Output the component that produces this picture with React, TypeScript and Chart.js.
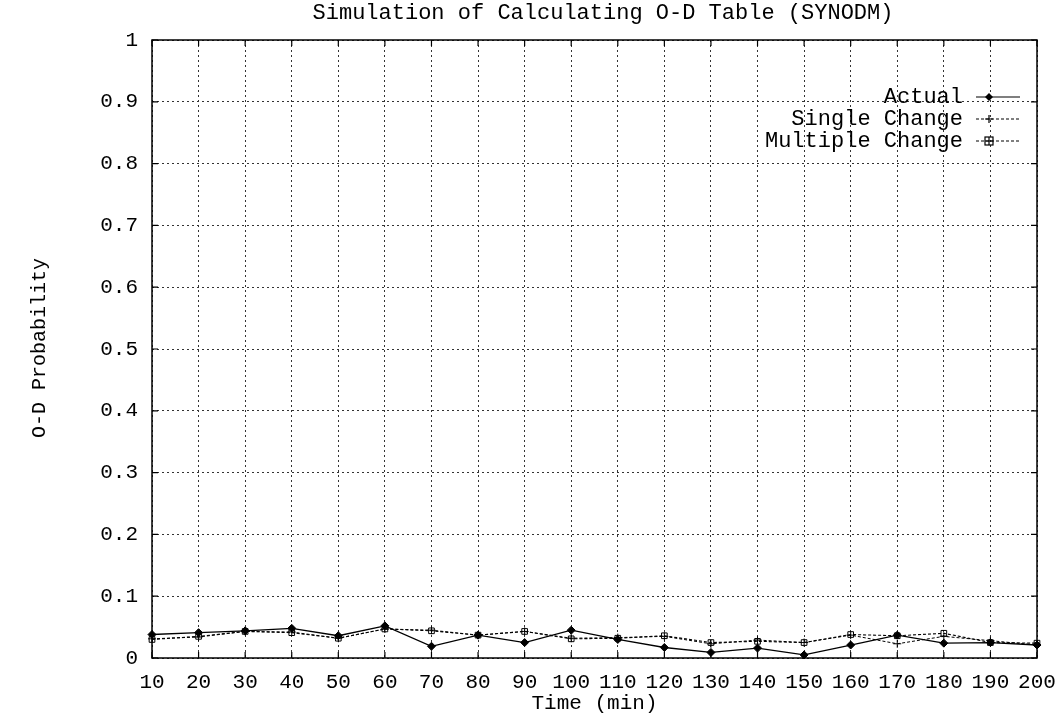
import React, { useEffect, useRef } from "react";
import { Chart, registerables } from "chart.js";

Chart.register(...registerables);

const times = [10, 20, 30, 40, 50, 60, 70, 80, 90, 100, 110, 120, 130, 140, 150, 160, 170, 180, 190, 200];
const actual = [0.038, 0.041, 0.044, 0.048, 0.036, 0.052, 0.019, 0.037, 0.025, 0.045, 0.030, 0.017, 0.009, 0.016, 0.005, 0.021, 0.037, 0.024, 0.025, 0.021];
const singleChange = [0.031, 0.034, 0.043, 0.042, 0.032, 0.047, 0.045, 0.037, 0.043, 0.032, 0.033, 0.035, 0.023, 0.029, 0.025, 0.037, 0.023, 0.035, 0.028, 0.021];
const multipleChange = [0.030, 0.035, 0.043, 0.041, 0.032, 0.047, 0.044, 0.037, 0.043, 0.031, 0.032, 0.036, 0.025, 0.027, 0.025, 0.038, 0.036, 0.040, 0.025, 0.024];
const legendLabels = ["Actual", "Single Change", "Multiple Change"];
const titleText = "Simulation of Calculating O-D Table (SYNODM)";
const xTitle = "Time (min)";
const yTitle = "O-D Probability";

const FONT = "'Liberation Mono', 'DejaVu Sans Mono', monospace";

const toPts = (arr: number[]) => arr.map((v, i) => ({ x: times[i], y: v }));

export default function App() {
  const ref = useRef<HTMLCanvasElement | null>(null);
  useEffect(() => {
    if (!ref.current) return;
    const textPlugin = {
      id: "textPlugin",
      afterDraw(chart: any) {
        const ctx = chart.ctx;
        const a = chart.chartArea;
        ctx.save();
        // border
        ctx.strokeStyle = "#000";
        ctx.lineWidth = 1.5;
        ctx.setLineDash([]);
        ctx.strokeRect(a.left, a.top, a.right - a.left, a.bottom - a.top);
        // small inward tick marks
        ctx.lineWidth = 1.2;
        const xs = chart.scales.x;
        const ys = chart.scales.y;
        ctx.beginPath();
        for (const t of times) {
          const px = xs.getPixelForValue(t);
          ctx.moveTo(px, a.bottom);
          ctx.lineTo(px, a.bottom - 6);
          ctx.moveTo(px, a.top);
          ctx.lineTo(px, a.top + 6);
        }
        for (let k = 0; k <= 10; k++) {
          const py = ys.getPixelForValue(k / 10);
          ctx.moveTo(a.left, py);
          ctx.lineTo(a.left + 6, py);
          ctx.moveTo(a.right, py);
          ctx.lineTo(a.right - 6, py);
        }
        ctx.stroke();
        ctx.fillStyle = "#000";
        ctx.font = `22px ${FONT}`;
        ctx.textAlign = "center";
        ctx.textBaseline = "middle";
        ctx.fillText(titleText, 603, 13);
        ctx.font = `21px ${FONT}`;
        ctx.fillText(xTitle, (a.left + a.right) / 2, 703);
        ctx.save();
        ctx.translate(40, 348);
        ctx.rotate(-Math.PI / 2);
        ctx.font = `20px ${FONT}`;
        ctx.fillText(yTitle, 0, 0);
        ctx.restore();
        // legend
        const rows = [97, 119, 141];
        const styles = [
          { dash: [] as number[], marker: "diamond" },
          { dash: [3, 2], marker: "plus" },
          { dash: [3, 2], marker: "square" },
        ];
        ctx.textAlign = "right";
        ctx.font = `22px ${FONT}`;
        for (let i = 0; i < 3; i++) {
          const y = rows[i];
          ctx.fillStyle = "#000";
          ctx.fillText(legendLabels[i], 963, y);
          ctx.strokeStyle = "#000";
          ctx.lineWidth = 1.2;
          ctx.setLineDash(styles[i].dash);
          ctx.beginPath();
          ctx.moveTo(976, y);
          ctx.lineTo(1020, y);
          ctx.stroke();
          ctx.setLineDash([]);
          const mx = 989;
          if (styles[i].marker === "diamond") {
            ctx.beginPath();
            ctx.moveTo(mx, y - 4);
            ctx.lineTo(mx + 4, y);
            ctx.lineTo(mx, y + 4);
            ctx.lineTo(mx - 4, y);
            ctx.closePath();
            ctx.fill();
          } else if (styles[i].marker === "plus") {
            ctx.beginPath();
            ctx.moveTo(mx - 4, y);
            ctx.lineTo(mx + 4, y);
            ctx.moveTo(mx, y - 4);
            ctx.lineTo(mx, y + 4);
            ctx.stroke();
          } else {
            ctx.strokeRect(mx - 4, y - 4, 8, 8);
            ctx.beginPath();
            ctx.moveTo(mx - 4, y);
            ctx.lineTo(mx + 4, y);
            ctx.moveTo(mx, y - 4);
            ctx.lineTo(mx, y + 4);
            ctx.stroke();
          }
        }
        ctx.restore();
      },
    };
    const chart = new Chart(ref.current, {
      type: "line",
      data: {
        datasets: [
          {
            label: legendLabels[0],
            data: toPts(actual),
            borderColor: "#000",
            backgroundColor: "#000",
            borderWidth: 1.3,
            pointStyle: "rectRot",
            pointRadius: 4,
            pointBorderWidth: 1,
            tension: 0,
          },
          {
            label: legendLabels[1],
            data: toPts(singleChange),
            borderColor: "#000",
            backgroundColor: "#000",
            borderWidth: 1,
            borderDash: [3, 2],
            pointStyle: "cross",
            pointRadius: 4,
            pointBorderWidth: 1,
            tension: 0,
          },
          {
            label: legendLabels[2],
            data: toPts(multipleChange),
            borderColor: "#000",
            backgroundColor: "rgba(0,0,0,0)",
            borderWidth: 1.1,
            borderDash: [3, 2],
            pointStyle: "rect",
            pointRadius: 4,
            pointBorderWidth: 1,
            tension: 0,
          },
        ],
      },
      options: {
        responsive: false,
        animation: false,
        clip: false as any,
        layout: { padding: { top: 40, right: 25, left: 0, bottom: 0 } } as any,
        plugins: { legend: { display: false }, tooltip: { enabled: false }, title: { display: false } },
        scales: {
          x: {
            type: "linear",
            min: 10,
            max: 200,
            afterFit: (s: any) => {
              s.height = 59;
              s.paddingLeft = 0;
              s.paddingRight = 0;
            },
            ticks: {
              stepSize: 10,
              padding: 12,
              color: "#000",
              maxRotation: 0,
              autoSkip: false,
              font: { family: FONT, size: 21 },
            },
            grid: { color: "#333", lineWidth: 1, drawTicks: false },
            border: { display: false, dash: [2, 3] } as any,
          },
          y: {
            min: 0,
            max: 1,
            afterFit: (s: any) => {
              s.width = 152;
              s.paddingTop = 0;
              s.paddingBottom = 0;
            },
            ticks: {
              stepSize: 0.1,
              padding: 14,
              color: "#000",
              font: { family: FONT, size: 21 },
              callback: (v: any) => {
                const n = Math.round(Number(v) * 10) / 10;
                return n === 0 ? "0" : n === 1 ? "1" : n.toFixed(1);
              },
            },
            grid: { color: "#333", lineWidth: 1, drawTicks: false },
            border: { display: false, dash: [2, 3] } as any,
          },
        },
      },
      plugins: [textPlugin],
    });
    return () => chart.destroy();
  }, []);
  return (
    <div style={{ position: "absolute", left: 0, top: 0, width: 1062, height: 717, background: "#fff" }}>
      <canvas ref={ref} width={1062} height={717} style={{ display: "block" }} />
    </div>
  );
}
